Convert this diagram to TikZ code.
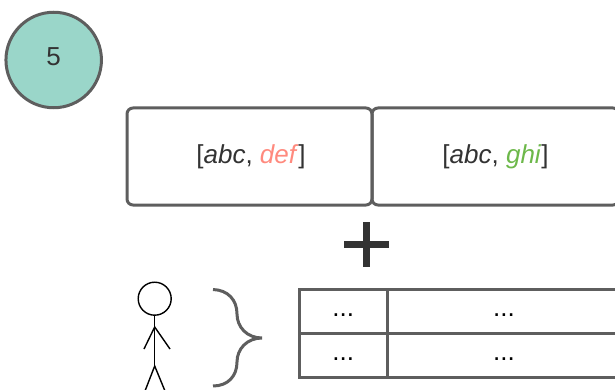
\documentclass[tikz,border=0pt]{standalone}
\usepackage{fontspec}
\setmainfont{Liberation Sans}
\usetikzlibrary{positioning}
\definecolor{edgegray}{HTML}{5E5E5E}
\definecolor{inkgray}{HTML}{333333}
\definecolor{badge}{HTML}{9AD6C9}
\definecolor{oldred}{HTML}{FF8A7E}
\definecolor{newgreen}{HTML}{6DB84A}
\newcommand{\Item}[1]{\textit{#1}}
\tikzset{
    badge/.style={circle, draw=edgegray, fill=badge, line width=3pt, minimum size=95.5pt, inner sep=0pt, text height=12pt, text depth=0pt, text=inkgray, font=\fontsize{26}{28}\selectfont},
    listbox/.style={draw=edgegray, line width=3pt, rounded corners=6pt, minimum height=97pt, inner sep=0pt, outer sep=0pt, text=inkgray, font=\fontsize{26}{30}\selectfont},
    cell/.style={draw=edgegray, line width=3pt, minimum height=44pt, inner sep=0pt, outer sep=0pt, text height=10pt, text depth=0pt, text=black, font=\fontsize{26}{30}\selectfont},
    stick/.style={draw=black, line width=1.4pt},
}

\begin{document}
\begin{tikzpicture}[x=1pt, y=-1pt]
    \useasboundingbox (0,0) rectangle (615,390);

    \node[badge] (step) at (53.7,60) {5};

    \node[listbox, minimum width=245pt] (left) at (249.5,156.5) {\hspace{3pt}[\Item{abc}, \textcolor{oldred}{\Item{def}}]};
    \node[listbox, minimum width=247pt, right=0pt of left] (right) {[\Item{abc}, \textcolor{newgreen}{\Item{ghi}}]};

    % plus sign
    \coordinate (pw) at (344,244.5);
    \coordinate (pe) at (389,244.5);
    \coordinate (pn) at (366,222);
    \coordinate (ps) at (366,267);
    \draw[inkgray, line width=7pt] (pw) -- (pe);
    \draw[inkgray, line width=7pt] (pn) -- (ps);

    % person
    \node[stick, circle, minimum size=33pt, inner sep=0pt, outer sep=0pt] (head) at (154.7,298.7) {};
    \coordinate (hip) at (154.7,366);
    \coordinate (neck) at (154.7,327);
    \coordinate (handl) at (144,349);
    \coordinate (handr) at (170,349);
    \coordinate (footl) at (145,391);
    \coordinate (footr) at (165,391);
    \draw[stick] (head) -- (hip);
    \draw[stick] (handl) -- (neck) -- (handr);
    \draw[stick] (footl) -- (hip) -- (footr);

    % brace
    \coordinate (bt) at (213,289.5);
    \coordinate (bb) at (213,386);
    \coordinate (tip) at (262,338);
    \draw[edgegray, line width=3pt] (bt) .. controls (228,290) and (237,300) .. (237,314)
        .. controls (237,327) and (247,338) .. (tip)
        .. controls (247,338) and (237,349) .. (237,362)
        .. controls (237,376) and (228,386) .. (bb);

    % table
    \node[cell, minimum width=88.5pt] (a1) at (343.25,311.5) {...};
    \node[cell, minimum width=233pt, right=0pt of a1] (b1) {...};
    \node[cell, minimum width=88.5pt, below=0pt of a1] (a2) {...};
    \node[cell, minimum width=233pt, below=0pt of b1] (b2) {...};
\end{tikzpicture}
\end{document}
